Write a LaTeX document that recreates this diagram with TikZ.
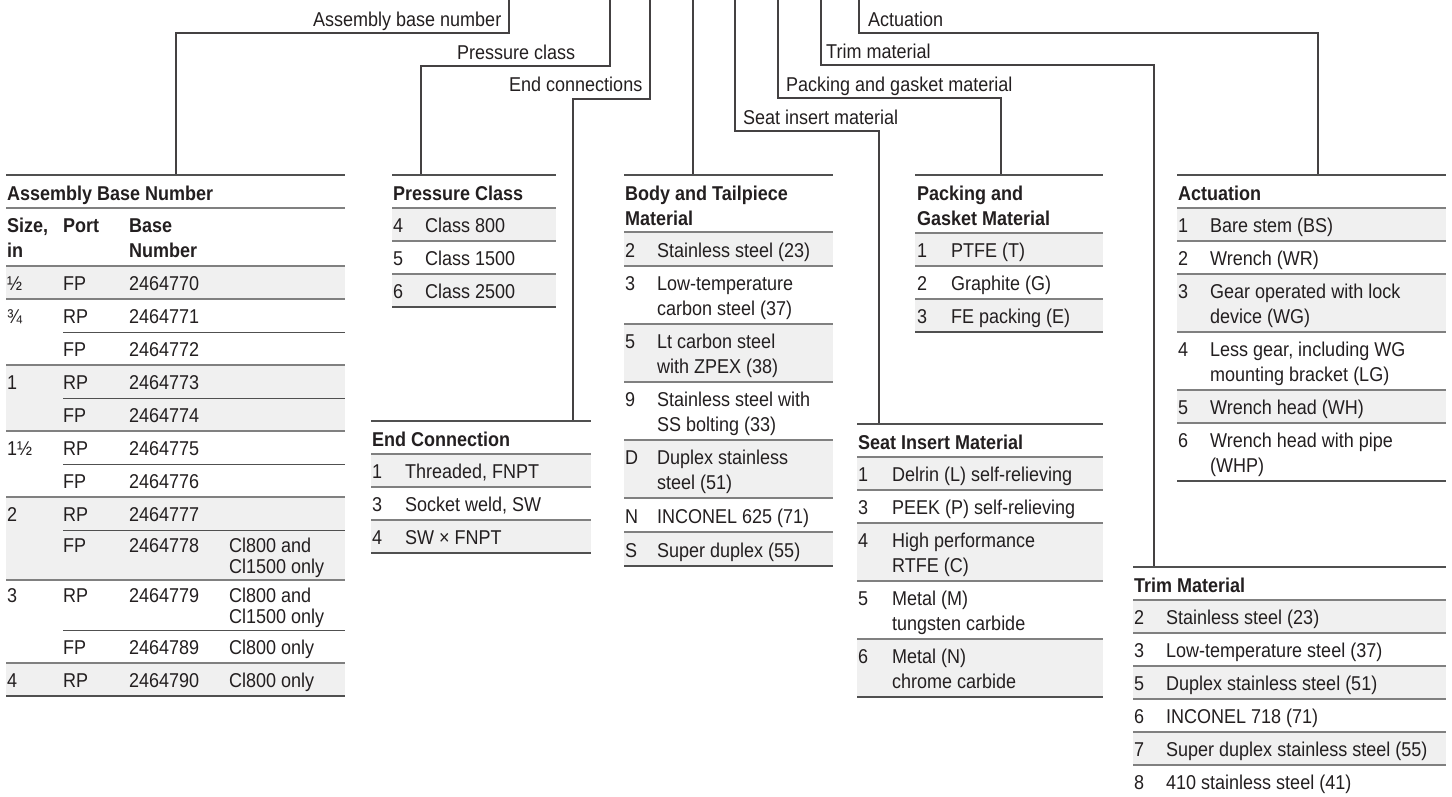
\documentclass[tikz,border=0pt]{standalone}
\usepackage{fontspec}
\setmainfont{Liberation Sans}[FakeStretch=0.9]
\usetikzlibrary{positioning}
\definecolor{inkblack}{RGB}{35,31,32}
\definecolor{rulegray}{RGB}{128,128,128}
\definecolor{ruledark}{RGB}{80,80,80}
\definecolor{shadegray}{RGB}{240,240,240}
\tikzset{
  conn/.style={line width=1.2pt, inkblack!85},
  headrule/.style={line width=2pt, ruledark},
  rowrule/.style={line width=1.6pt, rulegray},
  subrule/.style={line width=1pt, ruledark},
  botrule/.style={line width=1.8pt, ruledark},
  shade/.style={fill=shadegray, draw=none},
  lbl/.style={anchor=base west, inner sep=0pt, font=\fontsize{20}{25}\selectfont, text=inkblack},
  cell/.style={anchor=base west, inner sep=0pt, align=left, font=\fontsize{20}{25}\selectfont, text=inkblack},
  ttl/.style={cell, font=\fontsize{20}{25}\selectfont\bfseries}
}
\begin{document}
\begin{tikzpicture}[x=1pt, y=-1pt]
  \useasboundingbox (0,0) rectangle (1452,796);

  % connector entry points and table tops
  \coordinate (asmin) at (509,0);   \coordinate (asm) at (176,175);
  \coordinate (prsin) at (610,0);   \coordinate (prs) at (421,175);
  \coordinate (endin) at (650,0);   \coordinate (endc) at (573,421);
  \coordinate (bodin) at (693,0);   \coordinate (bod) at (693,175);
  \coordinate (seain) at (735,0);   \coordinate (sea) at (879,424);
  \coordinate (pakin) at (778,0);   \coordinate (pak) at (1001,175);
  \coordinate (trmin) at (821,0);   \coordinate (trm) at (1154,567);
  \coordinate (actin) at (859,0);   \coordinate (act) at (1318,175);

  \draw[conn] (asmin) -- ++(0,33) -| (asm);
  \draw[conn] (prsin) -- ++(0,66) -| (prs);
  \draw[conn] (endin) -- ++(0,99) -| (endc);
  \draw[conn] (bodin) -- (bod);
  \draw[conn] (seain) -- ++(0,131) -| (sea);
  \draw[conn] (pakin) -- ++(0,98) -| (pak);
  \draw[conn] (trmin) -- ++(0,65) -| (trm);
  \draw[conn] (actin) -- ++(0,33) -| (act);

  \node[lbl] (asmlbl) at (313,26) {Assembly base number};
  \node[lbl] (prslbl) at (457,59) {Pressure class};
  \node[lbl] (endlbl) at (509,91) {End connections};
  \node[lbl] (sealbl) at (743,124) {Seat insert material};
  \node[lbl] (paklbl) at (786,91) {Packing and gasket material};
  \node[lbl] (trmlbl) at (826,58) {Trim material};
  \node[lbl] (actlbl) at (868,26) {Actuation};

  % Assembly base number
  \fill[shade] (6,266) rectangle (345,299);
  \fill[shade] (6,365) rectangle (345,431);
  \fill[shade] (6,497) rectangle (345,580);
  \fill[shade] (6,663) rectangle (345,696);
  \draw[headrule] (6,175) -- (345,175);
  \draw[rowrule] (6,208) -- (345,208);
  \draw[rowrule] (6,266) -- (345,266);
  \draw[rowrule] (6,299) -- (345,299);
  \draw[subrule] (63,332) -- (345,332);
  \draw[rowrule] (6,365) -- (345,365);
  \draw[subrule] (63,398) -- (345,398);
  \draw[rowrule] (6,431) -- (345,431);
  \draw[subrule] (63,464) -- (345,464);
  \draw[rowrule] (6,497) -- (345,497);
  \draw[subrule] (63,530) -- (345,530);
  \draw[rowrule] (6,580) -- (345,580);
  \draw[subrule] (63,630) -- (345,630);
  \draw[rowrule] (6,663) -- (345,663);
  \draw[botrule] (6,696) -- (345,696);
  \node[ttl] (asmttl) at (7,200) {Assembly Base Number};
  \node[ttl] (asmhsz) at (7,257) {Size,\\in};
  \node[ttl] (asmhpt) at (63,232) {Port};
  \node[ttl] (asmhbn) at (129,257) {Base\\Number};
  \node[cell] (asm1s) at (7,290) {½};   \node[cell] (asm1p) at (63,290) {FP}; \node[cell] (asm1b) at (129,290) {2464770};
  \node[cell] (asm2s) at (7,323) {¾};   \node[cell] (asm2p) at (63,323) {RP}; \node[cell] (asm2b) at (129,323) {2464771};
                                        \node[cell] (asm3p) at (63,356) {FP}; \node[cell] (asm3b) at (129,356) {2464772};
  \node[cell] (asm4s) at (7,389) {1};   \node[cell] (asm4p) at (63,389) {RP}; \node[cell] (asm4b) at (129,389) {2464773};
                                        \node[cell] (asm5p) at (63,422) {FP}; \node[cell] (asm5b) at (129,422) {2464774};
  \node[cell] (asm6s) at (7,455) {1½};  \node[cell] (asm6p) at (63,455) {RP}; \node[cell] (asm6b) at (129,455) {2464775};
                                        \node[cell] (asm7p) at (63,488) {FP}; \node[cell] (asm7b) at (129,488) {2464776};
  \node[cell] (asm8s) at (7,521) {2};   \node[cell] (asm8p) at (63,521) {RP}; \node[cell] (asm8b) at (129,521) {2464777};
  \node[cell] (asm9p) at (63,552) {FP}; \node[cell] (asm9b) at (129,552) {2464778};
  \node[cell, font=\fontsize{20}{21}\selectfont] (asm9n) at (229,573) {Cl800 and\\Cl1500 only};
  \node[cell] (asm10s) at (7,602) {3};  \node[cell] (asm10p) at (63,602) {RP}; \node[cell] (asm10b) at (129,602) {2464779};
  \node[cell, font=\fontsize{20}{21}\selectfont] (asm10n) at (229,623) {Cl800 and\\Cl1500 only};
  \node[cell] (asm11p) at (63,654) {FP}; \node[cell] (asm11b) at (129,654) {2464789}; \node[cell] (asm11n) at (229,654) {Cl800 only};
  \node[cell] (asm12s) at (7,687) {4};  \node[cell] (asm12p) at (63,687) {RP}; \node[cell] (asm12b) at (129,687) {2464790}; \node[cell] (asm12n) at (229,687) {Cl800 only};

  % Pressure class
  \fill[shade] (392,208) rectangle (556,241);
  \fill[shade] (392,274) rectangle (556,307);
  \draw[headrule] (392,175) -- (556,175);
  \draw[rowrule] (392,208) -- (556,208);
  \draw[rowrule] (392,241) -- (556,241);
  \draw[rowrule] (392,274) -- (556,274);
  \draw[botrule] (392,307) -- (556,307);
  \node[ttl] (prsttl) at (393,200) {Pressure Class};
  \node[cell] (prs4) at (393,232) {4}; \node[cell] (prs4t) at (425,232) {Class 800};
  \node[cell] (prs5) at (393,265) {5}; \node[cell] (prs5t) at (425,265) {Class 1500};
  \node[cell] (prs6) at (393,298) {6}; \node[cell] (prs6t) at (425,298) {Class 2500};

  % End connection
  \fill[shade] (371,454) rectangle (591,487);
  \fill[shade] (371,520) rectangle (591,553);
  \draw[headrule] (371,421) -- (591,421);
  \draw[rowrule] (371,454) -- (591,454);
  \draw[rowrule] (371,487) -- (591,487);
  \draw[rowrule] (371,520) -- (591,520);
  \draw[botrule] (371,553) -- (591,553);
  \node[ttl] (endttl) at (372,446) {End Connection};
  \node[cell] (end1) at (372,478) {1}; \node[cell] (end1t) at (405,478) {Threaded, FNPT};
  \node[cell] (end3) at (372,511) {3}; \node[cell] (end3t) at (405,511) {Socket weld, SW};
  \node[cell] (end4) at (372,544) {4}; \node[cell] (end4t) at (405,544) {SW × FNPT};

  % Body and tailpiece material
  \fill[shade] (624,232) rectangle (833,266);
  \fill[shade] (624,324) rectangle (833,382);
  \fill[shade] (624,440) rectangle (833,498);
  \fill[shade] (624,532) rectangle (833,566);
  \draw[headrule] (624,175) -- (833,175);
  \draw[rowrule] (624,232) -- (833,232);
  \draw[rowrule] (624,266) -- (833,266);
  \draw[rowrule] (624,324) -- (833,324);
  \draw[rowrule] (624,382) -- (833,382);
  \draw[rowrule] (624,440) -- (833,440);
  \draw[rowrule] (624,498) -- (833,498);
  \draw[rowrule] (624,532) -- (833,532);
  \draw[botrule] (624,566) -- (833,566);
  \node[ttl] (bodttl) at (625,225) {Body and Tailpiece\\Material};
  \node[cell] (bod2) at (625,257) {2}; \node[cell] (bod2t) at (657,257) {Stainless steel (23)};
  \node[cell] (bod3) at (625,290) {3}; \node[cell] (bod3t) at (657,315) {Low-temperature\\carbon steel (37)};
  \node[cell] (bod5) at (625,348) {5}; \node[cell] (bod5t) at (657,373) {Lt carbon steel\\with ZPEX (38)};
  \node[cell] (bod9) at (625,406) {9}; \node[cell] (bod9t) at (657,431) {Stainless steel with\\SS bolting (33)};
  \node[cell] (bodD) at (625,464) {D}; \node[cell] (bodDt) at (657,489) {Duplex stainless\\steel (51)};
  \node[cell] (bodN) at (625,523) {N}; \node[cell] (bodNt) at (657,523) {INCONEL 625 (71)};
  \node[cell] (bodS) at (625,557) {S}; \node[cell] (bodSt) at (657,557) {Super duplex (55)};

  % Packing and gasket material
  \fill[shade] (915,233) rectangle (1103,266);
  \fill[shade] (915,299) rectangle (1103,332);
  \draw[headrule] (915,175) -- (1103,175);
  \draw[rowrule] (915,233) -- (1103,233);
  \draw[rowrule] (915,266) -- (1103,266);
  \draw[rowrule] (915,299) -- (1103,299);
  \draw[botrule] (915,332) -- (1103,332);
  \node[ttl] (pakttl) at (917,225) {Packing and\\Gasket Material};
  \node[cell] (pak1) at (917,257) {1}; \node[cell] (pak1t) at (951,257) {PTFE (T)};
  \node[cell] (pak2) at (917,290) {2}; \node[cell] (pak2t) at (951,290) {Graphite (G)};
  \node[cell] (pak3) at (917,323) {3}; \node[cell] (pak3t) at (951,323) {FE packing (E)};

  % Seat insert material
  \fill[shade] (857,457) rectangle (1103,490);
  \fill[shade] (857,523) rectangle (1103,581);
  \fill[shade] (857,639) rectangle (1103,697);
  \draw[headrule] (857,424) -- (1103,424);
  \draw[rowrule] (857,457) -- (1103,457);
  \draw[rowrule] (857,490) -- (1103,490);
  \draw[rowrule] (857,523) -- (1103,523);
  \draw[rowrule] (857,581) -- (1103,581);
  \draw[rowrule] (857,639) -- (1103,639);
  \draw[botrule] (857,697) -- (1103,697);
  \node[ttl] (seattl) at (858,449) {Seat Insert Material};
  \node[cell] (sea1) at (858,481) {1}; \node[cell] (sea1t) at (892,481) {Delrin (L) self-relieving};
  \node[cell] (sea3) at (858,514) {3}; \node[cell] (sea3t) at (892,514) {PEEK (P) self-relieving};
  \node[cell] (sea4) at (858,547) {4}; \node[cell] (sea4t) at (892,572) {High performance\\RTFE (C)};
  \node[cell] (sea5) at (858,605) {5}; \node[cell] (sea5t) at (892,630) {Metal (M)\\tungsten carbide};
  \node[cell] (sea6) at (858,663) {6}; \node[cell] (sea6t) at (892,688) {Metal (N)\\chrome carbide};

  % Actuation
  \fill[shade] (1177,208) rectangle (1446,241);
  \fill[shade] (1177,274) rectangle (1446,332);
  \fill[shade] (1177,390) rectangle (1446,423);
  \draw[headrule] (1177,175) -- (1446,175);
  \draw[rowrule] (1177,208) -- (1446,208);
  \draw[rowrule] (1177,241) -- (1446,241);
  \draw[rowrule] (1177,274) -- (1446,274);
  \draw[rowrule] (1177,332) -- (1446,332);
  \draw[rowrule] (1177,390) -- (1446,390);
  \draw[rowrule] (1177,423) -- (1446,423);
  \draw[botrule] (1177,481) -- (1446,481);
  \node[ttl] (actttl) at (1178,200) {Actuation};
  \node[cell] (act1) at (1178,232) {1}; \node[cell] (act1t) at (1210,232) {Bare stem (BS)};
  \node[cell] (act2) at (1178,265) {2}; \node[cell] (act2t) at (1210,265) {Wrench (WR)};
  \node[cell] (act3) at (1178,298) {3}; \node[cell] (act3t) at (1210,323) {Gear operated with lock\\device (WG)};
  \node[cell] (act4) at (1178,356) {4}; \node[cell] (act4t) at (1210,381) {Less gear, including WG\\mounting bracket (LG)};
  \node[cell] (act5) at (1178,414) {5}; \node[cell] (act5t) at (1210,414) {Wrench head (WH)};
  \node[cell] (act6) at (1178,447) {6}; \node[cell] (act6t) at (1210,472) {Wrench head with pipe\\(WHP)};

  % Trim material
  \fill[shade] (1133,600) rectangle (1446,633);
  \fill[shade] (1133,666) rectangle (1446,699);
  \fill[shade] (1133,732) rectangle (1446,765);
  \draw[headrule] (1133,567) -- (1446,567);
  \draw[rowrule] (1133,600) -- (1446,600);
  \draw[rowrule] (1133,633) -- (1446,633);
  \draw[rowrule] (1133,666) -- (1446,666);
  \draw[rowrule] (1133,699) -- (1446,699);
  \draw[rowrule] (1133,732) -- (1446,732);
  \draw[rowrule] (1133,765) -- (1446,765);
  \node[ttl] (trmttl) at (1134,592) {Trim Material};
  \node[cell] (trm2) at (1134,624) {2}; \node[cell] (trm2t) at (1166,624) {Stainless steel (23)};
  \node[cell] (trm3) at (1134,657) {3}; \node[cell] (trm3t) at (1166,657) {Low-temperature steel (37)};
  \node[cell] (trm5) at (1134,690) {5}; \node[cell] (trm5t) at (1166,690) {Duplex stainless steel (51)};
  \node[cell] (trm6) at (1134,723) {6}; \node[cell] (trm6t) at (1166,723) {INCONEL 718 (71)};
  \node[cell] (trm7) at (1134,756) {7}; \node[cell] (trm7t) at (1166,756) {Super duplex stainless steel (55)};
  \node[cell] (trm8) at (1134,789) {8}; \node[cell] (trm8t) at (1166,789) {410 stainless steel (41)};
\end{tikzpicture}
\end{document}
